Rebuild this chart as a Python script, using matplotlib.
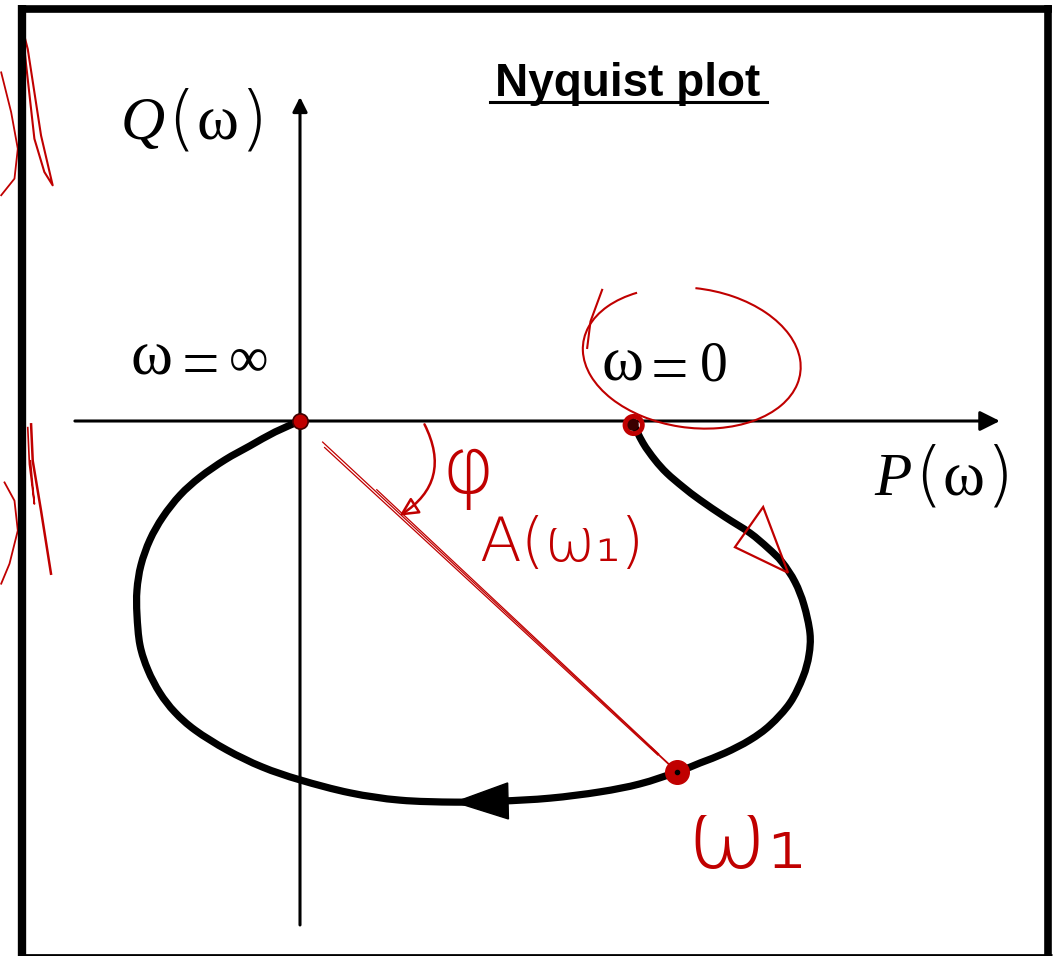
import numpy as np
import matplotlib
matplotlib.use("Agg")
import matplotlib.pyplot as plt
from matplotlib.patches import Polygon, Arc, Circle, PathPatch
from matplotlib.path import Path
from matplotlib.lines import Line2D

# Frequency response locus, P(w) + jQ(w), traced from w = 0 to w = inf
P_vals = [1.000, 1.033, 1.069, 1.105, 1.154, 1.205, 1.280, 1.355, 1.410, 1.452,
          1.491, 1.518, 1.536, 1.533, 1.515, 1.476, 1.416, 1.355, 1.280, 1.205,
          1.136, 1.024, 0.904, 0.753, 0.602, 0.467, 0.301, 0.151, 0.000, -0.114,
          -0.220, -0.316, -0.377, -0.422, -0.458, -0.482, -0.491, -0.491, -0.479,
          -0.452, -0.413, -0.361, -0.301, -0.226, -0.151, -0.075, 0.000]
Q_vals = [0.000, -0.066, -0.117, -0.157, -0.199, -0.238, -0.289, -0.337, -0.383,
          -0.425, -0.485, -0.554, -0.639, -0.705, -0.771, -0.849, -0.916, -0.961,
          -1.000, -1.030, -1.057, -1.093, -1.117, -1.136, -1.145, -1.148, -1.142,
          -1.120, -1.081, -1.042, -0.991, -0.931, -0.877, -0.819, -0.750, -0.675,
          -0.584, -0.509, -0.434, -0.358, -0.289, -0.223, -0.169, -0.117, -0.075,
          -0.033, 0.000]

W1_INDEX = 20        # sample marked as w1
ARROW_INDEX = 25     # direction arrow on the locus

title = "Nyquist plot"

RED = "#c00000"
SERIF = "Liberation Serif"


def smooth_path(xs, ys):
    """Cubic Bezier path through the samples (Catmull-Rom tangents)."""
    pts = np.column_stack([xs, ys])
    n = len(pts)
    verts = [pts[0]]
    codes = [Path.MOVETO]
    for i in range(n - 1):
        p0 = pts[max(i - 1, 0)]
        p1 = pts[i]
        p2 = pts[i + 1]
        p3 = pts[min(i + 2, n - 1)]
        verts += [p1 + (p2 - p0) / 6.0, p2 - (p3 - p1) / 6.0, p2]
        codes += [Path.CURVE4] * 3
    return Path(verts, codes)


S = 332.0  # pixels per unit
fig = plt.figure(figsize=(10.56, 9.56), dpi=100)
ax = fig.add_axes([0, 0, 1, 1])
ax.set_xlim(-300 / S, 756 / S)
ax.set_ylim(-535 / S, 421 / S)
ax.axis("off")

# coordinate axes with arrow heads
ax.annotate("", xy=(2.108, 0), xytext=(-0.678, 0),
            arrowprops=dict(arrowstyle="-|>", lw=2.2, color="black",
                            mutation_scale=30, shrinkA=0, shrinkB=0))
ax.annotate("", xy=(0, 0.976), xytext=(0, -1.518),
            arrowprops=dict(arrowstyle="-|>", lw=2.2, color="black",
                            mutation_scale=22, shrinkA=0, shrinkB=0))

# the locus
ax.add_patch(PathPatch(smooth_path(P_vals, Q_vals), fill=False, ec="black",
                       lw=5.2, capstyle="round", joinstyle="round", zorder=3))

# direction arrow on the locus
tip = np.array([P_vals[ARROW_INDEX], Q_vals[ARROW_INDEX]])
back = np.array([P_vals[ARROW_INDEX - 1], Q_vals[ARROW_INDEX - 1]])
d = (back - tip) / np.linalg.norm(back - tip)
n = np.array([-d[1], d[0]])
L, Wd = 53 / S, 18 / S
ax.add_patch(Polygon([tip, tip + L * d + Wd * n, tip + L * d - Wd * n],
                     closed=True, color="black", zorder=4))

# title
ax.text(0.988, 0.979, title, ha="center", va="baseline", fontsize=33,
        fontweight="bold", family=["Liberation Sans Narrow", "Liberation Sans"])
ax.plot([190 / S, 467 / S], [0.962, 0.962], color="black", lw=2.2)


def axis_label(letter, x_letter, x_open, x_w, x_close, y_base):
    ax.text(x_letter, y_base, letter, ha="center", va="baseline", fontsize=44,
            family=SERIF, style="italic")
    for x, ch in ((x_open, "("), (x_close, ")")):
        ax.text(x, y_base - 0.008, ch, ha="center", va="baseline", fontsize=52,
                family="DejaVu Sans", fontweight="light")
    ax.text(x_w, y_base, "ω", ha="center", va="baseline", fontsize=46, family=SERIF)


def omega_label(x_w, x_eq, x_val, y_base, value, value_size):
    ax.text(x_w, y_base, "ω", ha="center", va="baseline", fontsize=46, family=SERIF)
    ax.text(x_eq, y_base - 0.034, "=", ha="center", va="baseline", fontsize=48,
            family=SERIF)
    ax.text(x_val, y_base, value, ha="center", va="baseline", fontsize=value_size,
            family=SERIF)


axis_label("Q", -0.473, -0.358, -0.247, -0.140, 0.849)
axis_label("P", 1.785, 1.891, 1.997, 2.106, -0.223)
omega_label(-0.446, -0.301, -0.154, 0.139, "∞", 40)
omega_label(0.970, 1.114, 1.247, 0.123, "0", 40)

# red hand annotations
P0, Q0 = P_vals[0], Q_vals[0]
P1, Q1 = P_vals[W1_INDEX], Q_vals[W1_INDEX]
ax.plot([0], [0], "o", ms=11, mfc=RED, mec="#400000", mew=1.2, zorder=6)
ax.plot([P1], [Q1], "o", ms=17, mfc=RED, mec=RED, zorder=6)
ax.plot([P1], [Q1], "o", ms=3, color="black", zorder=7)
for r in (0.022, 0.03, 0.026):
    ax.add_patch(Circle((P0 + 0.005, Q0 - 0.012), r, fill=False, ec=RED, lw=1.6, zorder=6))
ax.plot([P0], [Q0 - 0.01], "o", ms=8, color="#3a0000", zorder=5)

# phasor A(w1)
v = np.array([P1, Q1])
nn = np.array([v[1], -v[0]]) / np.linalg.norm(v)
for frac0, off in ((0.06, 0.0), (0.07, 0.008), (0.2, -0.006)):
    a = frac0 * v + off * nn
    b = 0.95 * v + off * 0.3 * nn
    ax.plot([a[0], b[0]], [a[1], b[1]], color=RED, lw=0.9, zorder=5)
ax.plot([0.93 * P1, P1], [0.93 * Q1, Q1], color=RED, lw=1.3, zorder=5)

# angle arrow phi
ax.annotate("", xy=(0.30, -0.285), xytext=(0.375, -0.01),
            arrowprops=dict(arrowstyle="-|>", lw=1.8, color=RED,
                            mutation_scale=28, connectionstyle="arc3,rad=-0.45",
                            shrinkA=0, shrinkB=0, fill=False))
hand = dict(color=RED, family="DejaVu Sans", fontweight="light", zorder=6)
ax.text(0.506, -0.150, "φ", ha="center", va="center", fontsize=58, **hand)
ax.text(0.789, -0.373, "A(ω₁)", ha="center", va="center", fontsize=44, **hand)
ax.text(1.345, -1.265, "ω₁", ha="center", va="center", fontsize=70, **hand)

# loop around the w = 0 label and the little triangle on the locus
ax.add_patch(Arc((1.18, 0.19), 0.66, 0.42, angle=-8, theta1=138, theta2=455,
                 ec=RED, lw=1.5, zorder=6))
ax.plot([0.91, 0.875, 0.865], [0.395, 0.30, 0.22], color=RED, lw=1.5, zorder=6)
ax.add_patch(Polygon([(1.395, -0.259), (1.310, -0.380), (1.470, -0.457)],
                     closed=True, fill=False, ec=RED, lw=1.6, zorder=6))

# frame
frame = dict(color="black", transform=fig.transFigure, solid_capstyle="butt")
fig.add_artist(Line2D([22 / 1056, 22 / 1056], [0, 1 - 5 / 956], lw=6, **frame))
fig.add_artist(Line2D([18 / 1056, 1052 / 1056], [1 - 9 / 956, 1 - 9 / 956], lw=5.5, **frame))
fig.add_artist(Line2D([1048 / 1056, 1048 / 1056], [0, 1 - 5 / 956], lw=5.5, **frame))
fig.add_artist(Line2D([18 / 1056, 1052 / 1056], [1 / 956, 1 / 956], lw=2, **frame))

# margin strokes
ax.plot([-0.838, -0.80, -0.77, -0.745, -0.78, -0.82, -0.838],
        [1.19, 0.85, 0.75, 0.71, 0.86, 1.12, 1.19], color=RED, lw=1.5)
ax.plot([-0.90, -0.87, -0.85, -0.86, -0.90],
        [1.05, 0.93, 0.82, 0.73, 0.68], color=RED, lw=1.3)
ax.plot([-0.810, -0.805, -0.78, -0.75],
        [-0.01, -0.12, -0.27, -0.46], color=RED, lw=1.8)
ax.plot([-0.82, -0.815, -0.80, -0.812], [-0.02, -0.13, -0.25, -0.12], color=RED, lw=1.2)
ax.plot([-0.89, -0.86, -0.85, -0.875, -0.90],
        [-0.185, -0.24, -0.33, -0.43, -0.49], color=RED, lw=1.3)

fig.savefig("out.png", dpi=100)
